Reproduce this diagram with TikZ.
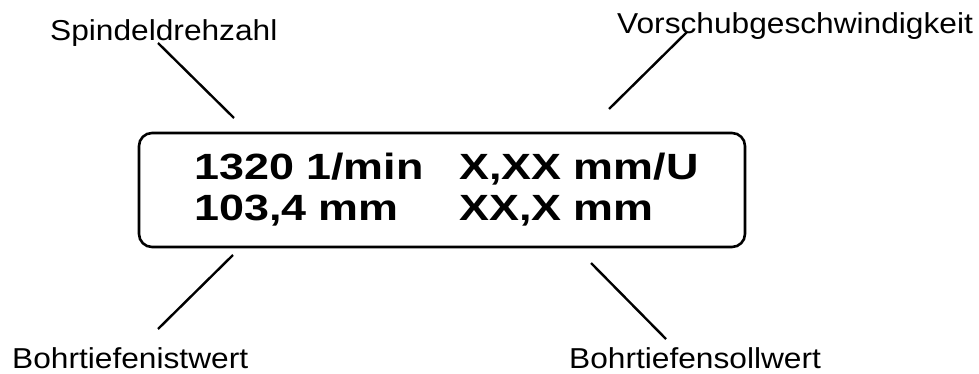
\documentclass[tikz,border=0pt]{standalone}
\usepackage{fontspec}
\setmainfont{Liberation Sans}
\newcommand{\lblstretch}[1]{\scalebox{1.1}[1]{#1}}
\newcommand{\valstretch}[1]{\scalebox{1.23}[1]{#1}}
\begin{document}
\begin{tikzpicture}[x=1pt,y=-1pt,
  lbl/.style={inner sep=0pt,anchor=base west,font=\fontsize{28.8}{34}\selectfont},
  val/.style={inner sep=0pt,anchor=base west,font=\fontsize{36.5}{42}\selectfont\bfseries},
  conn/.style={line width=2.4pt,line cap=butt},
  display/.style={draw,line width=2.6pt,rounded corners=13pt}]
\useasboundingbox (0,0) rectangle (979,374);
% labels
\node[lbl] (spd) at (50,41) {\lblstretch{Spindeldrehzahl}};
\node[lbl] (vor) at (617,34) {\lblstretch{Vorschubgeschwindigkeit}};
\node[lbl] (ist) at (12,368) {\lblstretch{Bohrtiefenistwert}};
\node[lbl] (soll) at (569,368) {\lblstretch{Bohrtiefensollwert}};
% display box
\draw[display] (139,133) rectangle (745,247);
\node[val] (v1) at (194,180) {\valstretch{1320 1/min}};
\node[val] (v2) at (459,180) {\valstretch{X,XX mm/U}};
\node[val] (v3) at (194,220) {\valstretch{103,4 mm}};
\node[val] (v4) at (459,220) {\valstretch{XX,X mm}};
% connector end points
\coordinate (c1a) at (158,43);  \coordinate (c1b) at (234,118);
\coordinate (c2a) at (687,32);  \coordinate (c2b) at (609,109);
\coordinate (c3a) at (233,255); \coordinate (c3b) at (158,329);
\coordinate (c4a) at (591,263); \coordinate (c4b) at (666,339);
\draw[conn] (c1a) -- (c1b);
\draw[conn] (c2a) -- (c2b);
\draw[conn] (c3a) -- (c3b);
\draw[conn] (c4a) -- (c4b);
\end{tikzpicture}
\end{document}
